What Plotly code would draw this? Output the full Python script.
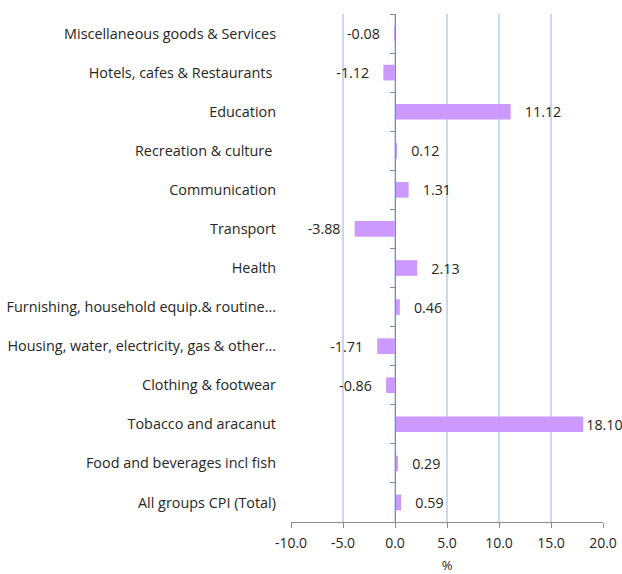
import plotly.graph_objects as go

categories = [
    "All groups CPI (Total)",
    "Food and beverages incl fish",
    "Tobacco and aracanut",
    "Clothing & footwear",
    "Housing, water, electricity, gas & other...",
    "Furnishing, household equip.& routine...",
    "Health",
    "Transport",
    "Communication",
    "Recreation & culture ",
    "Education",
    "Hotels, cafes & Restaurants ",
    "Miscellaneous goods & Services",
]
values = [0.59, 0.29, 18.10, -0.86, -1.71, 0.46, 2.13, -3.88, 1.31, 0.12, 11.12, -1.12, -0.08]
x_ticks = [-10, -5, 0, 5, 10, 15, 20]
x_tick_labels = ["-10.0", "-5.0", "0.0", "5.0", "10.0", "15.0", "20.0"]

FONT = "Open Sans"
TXT = "#262626"
n = len(categories)
x_min, x_max = -10, 20
pad = "\u00a0\u00a0\u00a0"

def label(v):
    # labels near the right edge sit tight against the bar end
    p = "" if v > 0.8 * x_max else pad
    return p + ("%.2f" % v) + p

fig = go.Figure()
fig.add_trace(go.Bar(
    y=categories, x=values, orientation="h",
    marker=dict(color="#cc99ff", line=dict(width=0)),
    width=0.4,
    text=[label(v) for v in values],
    textposition="outside",
    constraintext="none",
    textfont=dict(family=FONT, size=14.3, color=TXT),
    cliponaxis=False,
    hoverinfo="skip",
))
# invisible trace for the secondary y axis (axis line at x=0)
fig.add_trace(go.Scatter(x=[0, 0], y=[-0.5, n - 0.5], yaxis="y2",
                         mode="lines", line=dict(width=0), hoverinfo="skip",
                         showlegend=False))

zero_frac = (0 - x_min) / (x_max - x_min)

fig.update_layout(
    width=622, height=574,
    margin=dict(l=291, r=19, t=14, b=52, autoexpand=False),
    paper_bgcolor="white", plot_bgcolor="white",
    showlegend=False,
    font=dict(family=FONT, size=14, color=TXT),
    xaxis=dict(
        range=[x_min, x_max], tickvals=x_ticks, ticktext=x_tick_labels,
        showgrid=True, gridcolor="#cad8f1", gridwidth=1.5,
        zeroline=False, showline=True, linecolor="#8c8c8c", linewidth=1,
        ticks="outside", ticklen=5, tickcolor="#8c8c8c",
        tickfont=dict(family=FONT, size=14, color=TXT),
        ticklabelstandoff=3,
        title=dict(text="%", font=dict(family=FONT, size=13, color=TXT), standoff=13),
        fixedrange=True, automargin=False,
    ),
    yaxis=dict(
        range=[-0.5, n - 0.5], showgrid=False, zeroline=False, showline=False,
        ticks="", tickfont=dict(family=FONT, size=14.4, color=TXT),
        ticklabelstandoff=14, automargin=False, fixedrange=True,
    ),
    yaxis2=dict(
        overlaying="y", anchor="free", position=zero_frac, side="left",
        range=[-0.5, n - 0.5], tickvals=[i - 0.5 for i in range(n + 1)],
        showticklabels=False, showgrid=False, zeroline=False,
        showline=True, linecolor="#8c8c8c", linewidth=1,
        ticks="outside", ticklen=5, tickcolor="#8c8c8c", automargin=False,
        fixedrange=True,
    ),
)

fig.write_html("out.html", config={"displayModeBar": False},
               post_script="document.body.style.margin='0';document.body.style.overflow='hidden';")
